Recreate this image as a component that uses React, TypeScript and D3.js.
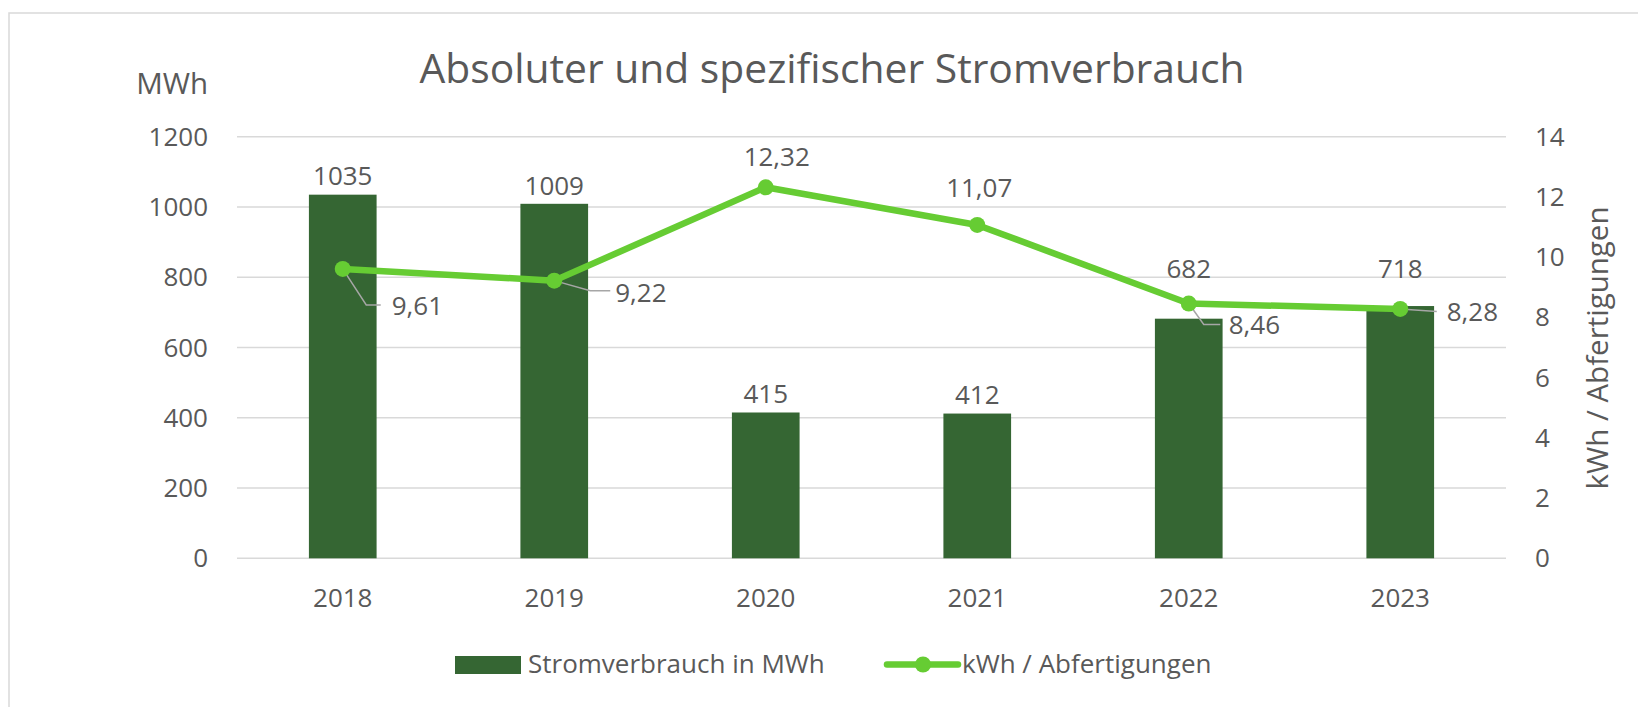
import { useEffect, useRef } from "react";
import * as d3 from "d3";

const years = ["2018", "2019", "2020", "2021", "2022", "2023"];
const consumption = [1035, 1009, 415, 412, 682, 718];
const perHandling = [9.61, 9.22, 12.32, 11.07, 8.46, 8.28];
const leftTicks = [0, 200, 400, 600, 800, 1000, 1200];
const rightTicks = [0, 2, 4, 6, 8, 10, 12, 14];

const title = "Absoluter und spezifischer Stromverbrauch";
const barName = "Stromverbrauch in MWh";
const lineName = "kWh / Abfertigungen";

// label nudges (Excel had them dragged around by hand)
const barLabelDy = [-9.5, -9, -9.5, -9.5, -40.5, -28];
const lineLabels = [
  { dx: 49, dy: 46, anchor: "start", leader: [[23.5, 36], [38, 36]] },
  { dx: 61, dy: 21, anchor: "start", leader: [[36, 10], [56, 10]] },
  { dx: 11, dy: -21, anchor: "middle", leader: null },
  { dx: 2, dy: -28, anchor: "middle", leader: null },
  { dx: 40, dy: 30, anchor: "start", leader: [[15, 21], [31.5, 21]] },
  { dx: 46.5, dy: 12, anchor: "start", leader: [[36.5, 2.5]] },
];

const W = 1638;
const H = 707;
const FONT = "'Open Sans', sans-serif";
const TEXT = "#595959";
const GRID = "#d9d9d9";
const BAR = "#356633";
const LINE = "#66cc33";
const FS = 26;

const fmt = d3.formatLocale({ decimal: ",", thousands: ".", grouping: [3], currency: ["", "€"] }).format(".2f");

const Chart = () => {
  const ref = useRef<SVGSVGElement>(null);

  useEffect(() => {
    const svg = d3.select(ref.current);
    svg.selectAll("*").remove();

    const left = 237, right = 1506, top = 136.7, bottom = 558.3;

    const x = d3.scalePoint().domain(years).range([left, right]).padding(0.5);
    const yL = d3.scaleLinear().domain([0, 1200]).range([bottom, top]);
    const yR = d3.scaleLinear().domain([0, 14]).range([bottom, top]);
    const barW = x.step() * 0.32;

    svg.append("rect")
      .attr("x", 9).attr("y", 13)
      .attr("width", W).attr("height", H)
      .attr("fill", "white")
      .attr("stroke", GRID).attr("stroke-width", 1.5);

    svg.append("text")
      .attr("x", 832).attr("y", 82.5)
      .attr("text-anchor", "middle")
      .attr("font-size", 40.8)
      .attr("fill", TEXT)
      .text(title);

    svg.append("g")
      .selectAll("line")
      .data(leftTicks)
      .join("line")
      .attr("x1", left).attr("x2", right)
      .attr("y1", (d) => yL(d)).attr("y2", (d) => yL(d))
      .attr("stroke", GRID).attr("stroke-width", 1.5);

    svg.append("g")
      .attr("font-size", FS).attr("fill", TEXT).attr("text-anchor", "end")
      .selectAll("text")
      .data(leftTicks)
      .join("text")
      .attr("x", 208).attr("y", (d) => yL(d) + 9)
      .text((d) => d);

    svg.append("g")
      .attr("font-size", FS).attr("fill", TEXT).attr("text-anchor", "start")
      .selectAll("text")
      .data(rightTicks)
      .join("text")
      .attr("x", 1535).attr("y", (d) => yR(d) + 9)
      .text((d) => d);

    svg.append("text")
      .attr("x", 208).attr("y", 94)
      .attr("text-anchor", "end").attr("font-size", 29.5).attr("fill", TEXT)
      .text("MWh");

    svg.append("text")
      .attr("transform", "translate(1608,348) rotate(-90)")
      .attr("text-anchor", "middle").attr("font-size", 29.5).attr("fill", TEXT)
      .text(lineName);

    svg.append("g")
      .attr("font-size", FS).attr("fill", TEXT).attr("text-anchor", "middle")
      .selectAll("text")
      .data(years)
      .join("text")
      .attr("x", (d) => x(d)!).attr("y", 607)
      .text((d) => d);

    // bars
    svg.append("g")
      .selectAll("rect")
      .data(consumption)
      .join("rect")
      .attr("x", (d, i) => x(years[i])! - barW / 2)
      .attr("y", (d) => yL(d))
      .attr("width", barW)
      .attr("height", (d) => yL(0) - yL(d))
      .attr("fill", BAR);

    svg.append("g")
      .attr("font-size", FS).attr("fill", TEXT).attr("text-anchor", "middle")
      .selectAll("text")
      .data(consumption)
      .join("text")
      .attr("x", (d, i) => x(years[i])!)
      .attr("y", (d, i) => yL(d) + barLabelDy[i])
      .text((d) => d);

    // line
    const line = d3.line<number>()
      .x((d, i) => x(years[i])!)
      .y((d) => yR(d));

    svg.append("path")
      .datum(perHandling)
      .attr("d", line)
      .attr("fill", "none")
      .attr("stroke", LINE)
      .attr("stroke-width", 6.5)
      .attr("stroke-linejoin", "round")
      .attr("stroke-linecap", "round");

    // leader lines
    svg.append("g")
      .selectAll("path")
      .data(perHandling.map((v, i) => ({ v, i })).filter((d) => lineLabels[d.i].leader))
      .join("path")
      .attr("d", ({ v, i }) => {
        const px = x(years[i])!, py = yR(v);
        const pts: [number, number][] = [[px, py], ...lineLabels[i].leader!.map(([dx, dy]) => [px + dx, py + dy] as [number, number])];
        return d3.line()(pts);
      })
      .attr("fill", "none")
      .attr("stroke", "#a6a6a6")
      .attr("stroke-width", 1.5);

    svg.append("g")
      .selectAll("circle")
      .data(perHandling)
      .join("circle")
      .attr("cx", (d, i) => x(years[i])!)
      .attr("cy", (d) => yR(d))
      .attr("r", 8)
      .attr("fill", LINE);

    svg.append("g")
      .attr("font-size", FS).attr("fill", TEXT)
      .selectAll("text")
      .data(perHandling)
      .join("text")
      .attr("x", (d, i) => x(years[i])! + lineLabels[i].dx)
      .attr("y", (d, i) => yR(d) + lineLabels[i].dy)
      .attr("text-anchor", (d, i) => lineLabels[i].anchor)
      .text((d) => fmt(d));

    // legend
    const lg = svg.append("g").attr("font-size", FS).attr("fill", TEXT);
    lg.append("rect").attr("x", 455).attr("y", 656).attr("width", 66).attr("height", 18).attr("fill", BAR);
    lg.append("text").attr("x", 528).attr("y", 673).text(barName);
    lg.append("line").attr("x1", 887).attr("x2", 958).attr("y1", 664.5).attr("y2", 664.5)
      .attr("stroke", LINE).attr("stroke-width", 6.5).attr("stroke-linecap", "round");
    lg.append("circle").attr("cx", 923).attr("cy", 664.5).attr("r", 8).attr("fill", LINE);
    lg.append("text").attr("x", 962).attr("y", 673).text(lineName);
  }, []);

  return (
    <svg
      ref={ref}
      width={W}
      height={H}
      fontFamily={FONT}
      style={{ position: "absolute", left: 0, top: 0, display: "block" }}
    />
  );
};

export default function App() {
  return <Chart />;
}
